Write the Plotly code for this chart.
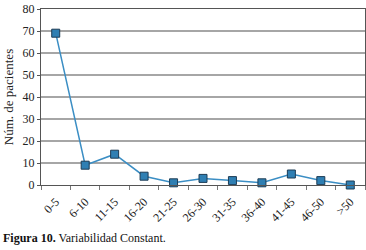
import plotly.graph_objects as go

categories = ["0-5", "6-10", "11-15", "16-20", "21-25", "26-30", "31-35", "36-40", "41-45", "46-50", ">50"]
pacientes = [69, 9, 14, 4, 1, 3, 2, 1, 5, 2, 0]
y_ticks = [0, 10, 20, 30, 40, 50, 60, 70, 80]

fig = go.Figure()
fig.add_trace(go.Scatter(
    x=categories, y=pacientes, mode="lines+markers",
    line=dict(color="#3b8ec4", width=1.5),
    marker=dict(symbol="square", size=8, color="#2f7fb3",
                line=dict(color="#1d3c55", width=1)),
    cliponaxis=False, showlegend=False,
))

serif = "Liberation Serif, Times New Roman, serif"
fig.update_layout(
    width=366, height=250,
    margin=dict(l=41, r=1, t=9, b=65),
    plot_bgcolor="white", paper_bgcolor="white",
    font=dict(family=serif, color="#222", size=12),
    xaxis=dict(
        type="category", tickson="boundaries", ticks="outside", ticklen=4,
        tickcolor="#777", tickangle=-45, tickfont=dict(size=12),
        ticklabelstandoff=4,
        showline=True, linecolor="#555", linewidth=1, mirror=True,
        showgrid=False, range=[-0.5, 10.5],
    ),
    yaxis=dict(
        range=[0, 80], tickvals=y_ticks, ticks="outside", ticklen=3,
        tickcolor="#555", tickfont=dict(size=12),
        showline=True, linecolor="#555", linewidth=1, mirror=True,
        showgrid=True, gridcolor="#a6a6a6", gridwidth=1.5,
        zeroline=False,
        title=dict(text="Núm. de pacientes", font=dict(size=13), standoff=6),
    ),
    annotations=[dict(
        text="<b>Figura 10.</b> Variabilidad Constant.",
        xref="paper", yref="paper", x=-40/324, y=-53/176,
        xanchor="left", yanchor="middle", showarrow=False,
        font=dict(family=serif, size=12, color="#111"),
    )],
)

fig.write_html("out.html", config={"displayModeBar": False},
               post_script="document.body.style.margin='0';")
